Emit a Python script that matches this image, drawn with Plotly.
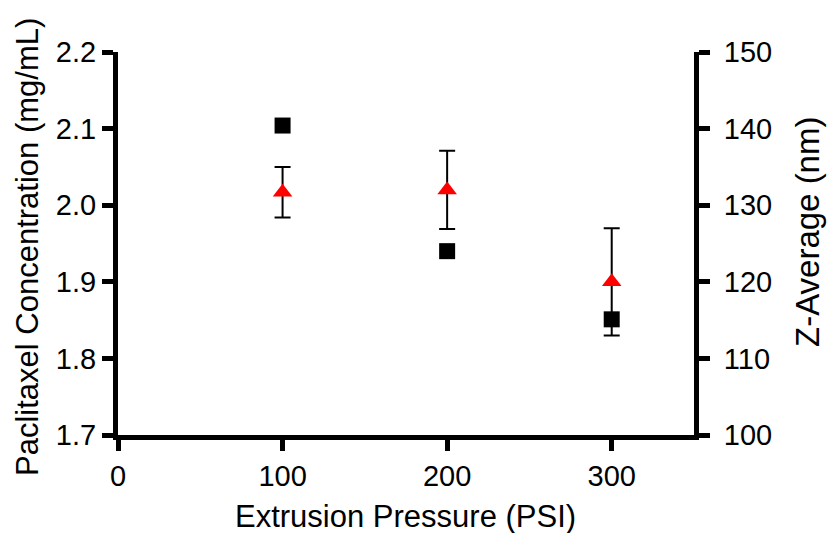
import plotly.graph_objects as go

# Data
pressure = [100, 200, 300]                      # Extrusion Pressure (PSI)
paclitaxel = [2.017, 2.020, 1.900]              # mg/mL (red triangles, left axis)
paclitaxel_err = [0.033, 0.051, 0.070]
z_average = [140.4, 124.0, 115.1]               # nm (black squares, right axis)

x_ticks = [0, 100, 200, 300]
y_ticks = [1.7, 1.8, 1.9, 2.0, 2.1, 2.2]
y2_ticks = [100, 110, 120, 130, 140, 150]

x_title = "Extrusion Pressure (PSI)"
y_title = "Paclitaxel Concentration (mg/mL)"
y2_title = "Z-Average (nm)"

FONT = "Liberation Sans, Arial, sans-serif"
W, H = 827, 533
L, R, T, B = 118, 133, 52, 98
PW, PH = W - L - R, H - T - B


def px_x(px):
    return (px - L) / PW


def px_y(py):
    return (H - B - py) / PH


fig = go.Figure()
fig.add_trace(go.Scatter(
    x=pressure, y=paclitaxel, mode="markers", name="Paclitaxel Concentration",
    marker=dict(symbol="triangle-up", size=17, color="#ff0000"),
    error_y=dict(type="data", array=paclitaxel_err, visible=True,
                 color="black", thickness=2, width=8),
    yaxis="y",
))
fig.add_trace(go.Scatter(
    x=pressure, y=z_average, mode="markers", name="Z-Average",
    marker=dict(symbol="square", size=16, color="black"),
    yaxis="y2",
))

axis_common = dict(
    showgrid=False, zeroline=False, showline=True, linecolor="black",
    linewidth=5, ticks="outside", ticklen=11, tickwidth=5, tickcolor="black",
    tickfont=dict(family=FONT, size=29, color="black"),
)

fig.update_layout(
    width=W, height=H,
    margin=dict(l=L, r=R, t=T, b=B),
    paper_bgcolor="white", plot_bgcolor="white",
    showlegend=False,
    font=dict(family=FONT, color="black"),
    xaxis=dict(range=[0, 350], tickvals=x_ticks, **axis_common),
    yaxis=dict(range=[1.7, 2.2], tickvals=y_ticks, tickformat=".1f", **axis_common),
    yaxis2=dict(range=[100, 150], tickvals=y2_ticks, overlaying="y", side="right",
                ticklabelstandoff=8, **axis_common),
    annotations=[
        dict(text=x_title, xref="paper", yref="paper", x=px_x(405), y=px_y(516),
             xanchor="center", yanchor="middle", showarrow=False,
             font=dict(family=FONT, size=31, color="black")),
        dict(text=y_title, xref="paper", yref="paper", x=px_x(27), y=px_y(247),
             xanchor="center", yanchor="middle", showarrow=False, textangle=-90,
             font=dict(family=FONT, size=31, color="black")),
        dict(text=y2_title, xref="paper", yref="paper", x=px_x(807), y=px_y(232),
             xanchor="center", yanchor="middle", showarrow=False, textangle=-90,
             font=dict(family=FONT, size=33, color="black")),
    ],
)

fig.write_html("out.html")
